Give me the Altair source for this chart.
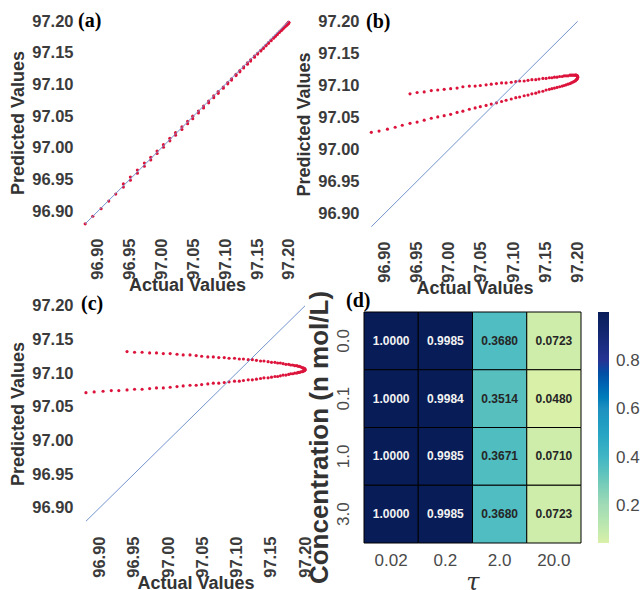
import altair as alt
import pandas as pd

# ---------------- data ----------------
actual_rise = [
    96.880, 96.892, 96.905, 96.917, 96.928, 96.940, 96.951, 96.962, 96.973, 96.983,
    96.993, 97.003, 97.013, 97.022, 97.032, 97.041, 97.049, 97.058, 97.066, 97.074,
    97.082, 97.089, 97.097, 97.104, 97.110, 97.117, 97.123, 97.129, 97.135, 97.140,
    97.146, 97.151, 97.156, 97.160, 97.164, 97.168, 97.172, 97.176, 97.179, 97.182,
    97.185, 97.188, 97.190, 97.192, 97.194, 97.196, 97.197, 97.198, 97.199, 97.1995,
    97.1999, 97.200]
actual_fall = [
    97.1999, 97.1995, 97.199, 97.198, 97.197, 97.196, 97.194, 97.192, 97.190, 97.188,
    97.185, 97.182, 97.179, 97.176, 97.172, 97.168, 97.164, 97.160, 97.156, 97.151,
    97.146, 97.140, 97.135, 97.129, 97.123, 97.117, 97.110, 97.104, 97.097, 97.089,
    97.082, 97.074, 97.066, 97.058, 97.049, 97.041, 97.032, 97.022, 97.013, 97.003,
    96.993, 96.983, 96.973, 96.962, 96.951, 96.940]

pred_a_rise = [
    96.880, 96.892, 96.904, 96.916, 96.927, 96.938, 96.949, 96.960, 96.971, 96.981,
    96.991, 97.001, 97.011, 97.020, 97.029, 97.038, 97.046, 97.055, 97.063, 97.071,
    97.079, 97.086, 97.094, 97.101, 97.107, 97.114, 97.120, 97.126, 97.132, 97.137,
    97.143, 97.148, 97.153, 97.157, 97.161, 97.165, 97.169, 97.173, 97.176, 97.179,
    97.182, 97.185, 97.187, 97.189, 97.191, 97.193, 97.194, 97.195, 97.196, 97.197,
    97.197, 97.198]
pred_a_fall = [
    97.198, 97.198, 97.197, 97.196, 97.195, 97.194, 97.192, 97.190, 97.188, 97.186,
    97.183, 97.180, 97.177, 97.174, 97.170, 97.166, 97.162, 97.158, 97.154, 97.149,
    97.145, 97.139, 97.134, 97.128, 97.122, 97.116, 97.109, 97.103, 97.096, 97.089,
    97.082, 97.074, 97.066, 97.058, 97.050, 97.042, 97.033, 97.024, 97.015, 97.005,
    96.995, 96.985, 96.976, 96.965, 96.954, 96.943]

pred_b_rise = [
    97.027, 97.029, 97.032, 97.035, 97.038, 97.041, 97.043, 97.046, 97.049, 97.051,
    97.053, 97.055, 97.058, 97.060, 97.063, 97.065, 97.067, 97.069, 97.071, 97.073,
    97.075, 97.077, 97.079, 97.081, 97.082, 97.084, 97.085, 97.087, 97.088, 97.090,
    97.091, 97.093, 97.094, 97.095, 97.096, 97.097, 97.098, 97.099, 97.100, 97.101,
    97.102, 97.103, 97.104, 97.105, 97.106, 97.107, 97.108, 97.109, 97.110, 97.111,
    97.112, 97.113]
pred_b_fall = [
    97.114, 97.115, 97.115, 97.116, 97.116, 97.116, 97.116, 97.116, 97.116, 97.116,
    97.115, 97.115, 97.115, 97.114, 97.114, 97.113, 97.113, 97.112, 97.112, 97.111,
    97.111, 97.110, 97.109, 97.109, 97.108, 97.107, 97.107, 97.106, 97.105, 97.104,
    97.104, 97.103, 97.102, 97.101, 97.100, 97.099, 97.099, 97.098, 97.096, 97.095,
    97.094, 97.093, 97.092, 97.090, 97.089, 97.087]

pred_c_rise = [
    97.071, 97.072, 97.073, 97.074, 97.074, 97.075, 97.076, 97.076, 97.077, 97.078,
    97.078, 97.079, 97.080, 97.081, 97.082, 97.082, 97.083, 97.084, 97.085, 97.085,
    97.086, 97.087, 97.088, 97.088, 97.089, 97.090, 97.090, 97.091, 97.092, 97.093,
    97.093, 97.094, 97.095, 97.095, 97.096, 97.097, 97.097, 97.098, 97.099, 97.099,
    97.100, 97.100, 97.101, 97.101, 97.102, 97.102, 97.103, 97.103, 97.104, 97.104,
    97.105, 97.105]
pred_c_fall = [
    97.106, 97.106, 97.107, 97.107, 97.108, 97.108, 97.109, 97.110, 97.110, 97.111,
    97.111, 97.112, 97.112, 97.113, 97.113, 97.114, 97.115, 97.115, 97.116, 97.116,
    97.117, 97.118, 97.118, 97.119, 97.120, 97.120, 97.121, 97.121, 97.122, 97.122,
    97.123, 97.123, 97.124, 97.124, 97.125, 97.126, 97.127, 97.127, 97.128, 97.129,
    97.129, 97.130, 97.130, 97.131, 97.131, 97.132]

tick_values = [96.90, 96.95, 97.00, 97.05, 97.10, 97.15, 97.20]
axis_domain = [96.864, 97.216]

tau_labels = ["0.02", "0.2", "2.0", "20.0"]
conc_labels = ["0.0", "0.1", "1.0", "3.0"]
heat_values = [
    [1.0000, 0.9985, 0.3680, 0.0723],
    [1.0000, 0.9984, 0.3514, 0.0480],
    [1.0000, 0.9985, 0.3671, 0.0710],
    [1.0000, 0.9985, 0.3680, 0.0723],
]
colorbar_ticks = [0.2, 0.4, 0.6, 0.8]
color_stops = [0.048, 0.2, 0.4, 0.6, 0.8, 1.0]
color_range = ["#d9f0a8", "#a3dbb6", "#41b6c4", "#1d91c0", "#253494", "#081d58"]

panel_labels = ["(a)", "(b)", "(c)", "(d)"]

POINT_COLOR = "#dc143c"
LINE_COLOR = "#7394cf"
LABEL_STYLE = dict(font="Liberation Serif", fontSize=20, fontWeight="bold",
                   color="black", align="left", baseline="middle")

# heatmap geometry: the view is 3 px wider than the grid so the grid sits a bit right of panel b
HEAT_SHIFT, HEAT_W, HEAT_H = 3, 217, 231


def panel_label(text, px, py):
    return alt.Chart(pd.DataFrame({"label": [text]})).mark_text(**LABEL_STYLE).encode(
        text="label:N", x=alt.value(px), y=alt.value(py))


def scatter_panel(pred_rise, pred_fall, label, w, h, lx, ly):
    df = pd.DataFrame({"actual": actual_rise + actual_fall,
                       "predicted": pred_rise + pred_fall})
    lo, hi = df["actual"].min(), df["actual"].max()
    ldf = pd.DataFrame({"actual": [lo, hi], "predicted": [lo, hi]})
    xenc = alt.X("actual:Q",
                 scale=alt.Scale(domain=axis_domain, nice=False, zero=False),
                 axis=alt.Axis(values=tick_values, format=".2f", labelAngle=-90,
                               title="Actual Values", labelPadding=4, titlePadding=-3))
    yenc = alt.Y("predicted:Q",
                 scale=alt.Scale(domain=axis_domain, nice=False, zero=False),
                 axis=alt.Axis(values=tick_values, format=".2f",
                               title="Predicted Values", labelPadding=2, titlePadding=4))
    pts = alt.Chart(df).mark_circle(size=10, color=POINT_COLOR, opacity=1).encode(x=xenc, y=yenc)
    line = alt.Chart(ldf).mark_line(color=LINE_COLOR, strokeWidth=1).encode(x=xenc, y=yenc)
    return alt.layer(pts, line, panel_label(label, lx, ly)).properties(width=w, height=h)


panel_a = scatter_panel(pred_a_rise, pred_a_fall, panel_labels[0], 224, 223, 3, 9.5)
panel_b = scatter_panel(pred_b_rise, pred_b_fall, panel_labels[1], 227, 226, 5, 11)
panel_c = scatter_panel(pred_c_rise, pred_c_fall, panel_labels[2], 241, 237, 6, 9)

rows = []
for i, c in enumerate(conc_labels):
    for j, t in enumerate(tau_labels):
        rows.append({"conc": c, "tau": t, "value": heat_values[i][j]})
hdf = pd.DataFrame(rows)

hbase = alt.Chart(hdf).encode(
    x=alt.X("tau:O", sort=tau_labels,
            scale=alt.Scale(paddingInner=0, paddingOuter=0,
                            range=[HEAT_SHIFT, HEAT_SHIFT + HEAT_W]),
            axis=alt.Axis(title="τ", labelAngle=0, labelPadding=9,
                          labelFontWeight="normal", labelFontSize=17, labelColor="#4a4a4a",
                          titleFont="DejaVu Serif", titleFontStyle="italic",
                          titleFontWeight="normal", titleFontSize=24, titlePadding=2,
                          titleColor="#333")),
    y=alt.Y("conc:O", sort=conc_labels,
            scale=alt.Scale(paddingInner=0, paddingOuter=0),
            axis=alt.Axis(title="Concentration (n mol/L)", labelAngle=-90, labelPadding=9,
                          labelFontWeight="normal", labelFontSize=17, labelColor="#4a4a4a",
                          titleFontSize=26, titlePadding=2, titleY=125)),
)
rect = hbase.mark_rect(stroke="black", strokeWidth=1).encode(
    color=alt.Color("value:Q",
                    scale=alt.Scale(domain=color_stops, range=color_range),
                    legend=alt.Legend(title=None, orient="none",
                                      legendX=HEAT_SHIFT + HEAT_W + 17, legendY=0,
                                      gradientLength=231, gradientThickness=11,
                                      values=colorbar_ticks, format=".1f",
                                      labelFontSize=17, labelColor="#4a4a4a",
                                      labelFont="Liberation Sans", labelOffset=7,
                                      padding=0, gradientStrokeWidth=0,
                                      direction="vertical")))
txt = hbase.mark_text(font="Liberation Sans", fontWeight="bold", fontSize=12).encode(
    text=alt.Text("value:Q", format=".4f"),
    color=alt.condition("datum.value > 0.5", alt.value("#f2f2f2"), alt.value("#262626")))

panel_d = alt.layer(rect, txt, panel_label(panel_labels[3], -15, -11)).properties(
    width=HEAT_SHIFT + HEAT_W, height=HEAT_H)

col1 = alt.vconcat(panel_a, panel_c, spacing=61, bounds="flush")
col2 = alt.vconcat(panel_b, panel_d, spacing=75, bounds="flush").resolve_scale(
    color="independent").resolve_legend(color="independent")

chart = alt.hconcat(col1, col2, spacing=-21).resolve_scale(
    color="independent").resolve_legend(color="independent").properties(
    padding={"left": 9, "top": 10, "right": 0, "bottom": 0},
    background="white"
).configure_axis(
    labelFont="Liberation Sans", labelFontWeight="bold", labelFontSize=16.5,
    labelColor="#3b3b3b", titleFont="Liberation Sans", titleFontWeight="bold",
    titleFontSize=18, titleColor="#333", domain=False, ticks=False, grid=False
).configure_view(strokeWidth=0)

chart.save("out.html", embed_options={"renderer": "svg", "actions": False})
